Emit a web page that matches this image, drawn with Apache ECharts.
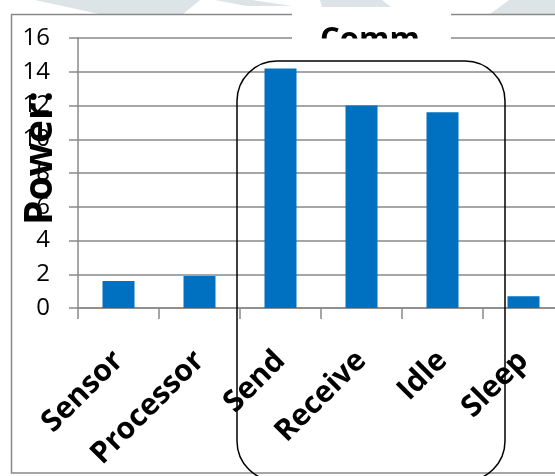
<!DOCTYPE html>
<html>
<head>
<meta charset="utf-8">
<script src="https://cdn.jsdelivr.net/npm/echarts@6/dist/echarts.min.js"></script>
<style>
  html, body { margin: 0; padding: 0; background: #fff; }
  #chart { width: 555px; height: 476px; }
</style>
</head>
<body>
<div id="chart"></div>
<script>
// Power draw per node component
const categories = ['Sensor', 'Processor', 'Send', 'Receive', 'Idle', 'Sleep'];
const powerValues = [1.6, 1.9, 14.2, 12.0, 11.6, 0.7];
const yTicks = { min: 0, max: 16, step: 2 };

const GRID_GRAY = '#898989';
const BAR_BLUE = '#0070C0';
const LABEL_FONT = '"Open Sans", "DejaVu Sans", sans-serif';

const chart = echarts.init(document.getElementById('chart'), null, { renderer: 'canvas' });

chart.setOption({
  animation: false,
  backgroundColor: '#ffffff',
  grid: {
    left: 78,
    top: 38,
    width: 486,
    height: 270,
    containLabel: false,
    outerBoundsMode: 'none'
  },
  xAxis: {
    type: 'category',
    data: categories,
    boundaryGap: true,
    axisLine: { show: true, lineStyle: { color: GRID_GRAY, width: 1.5 } },
    axisTick: { show: true, length: 11, lineStyle: { color: GRID_GRAY, width: 1.5 } },
    axisLabel: {
      interval: 0,
      rotate: 45,
      margin: 48,
      color: '#000',
      fontFamily: LABEL_FONT,
      fontWeight: 'bold',
      fontSize: 30
    }
  },
  yAxis: {
    type: 'value',
    min: yTicks.min,
    max: yTicks.max,
    interval: yTicks.step,
    axisLine: { show: true, lineStyle: { color: GRID_GRAY, width: 1.5 } },
    axisTick: { show: true, length: 9, lineStyle: { color: GRID_GRAY, width: 1.5 } },
    splitLine: { show: true, lineStyle: { color: GRID_GRAY, width: 1.5 } },
    axisLabel: {
      margin: 28,
      color: '#000',
      fontFamily: LABEL_FONT,
      fontSize: 24
    }
  },
  series: [{
    type: 'bar',
    data: powerValues,
    barWidth: 32,
    itemStyle: { color: BAR_BLUE },
    z: 2
  }],
  graphic: {
    elements: [
      // faint backdrop shapes along the top edge
      { type: 'polygon', z: 0, shape: { points: [[35, 0], [200, 0], [183, 14], [99, 14]] }, style: { fill: '#dde4e7' } },
      { type: 'polygon', z: 0, shape: { points: [[215, 0], [252, 0], [292, 6], [246, 6]] }, style: { fill: '#dde4e7' } },
      { type: 'polygon', z: 0, shape: { points: [[320, 0], [382, 0], [391, 7], [322, 7]] }, style: { fill: '#dde4e7' } },
      { type: 'polygon', z: 0, shape: { points: [[509, 0], [555, 0], [555, 14], [490, 14]] }, style: { fill: '#dde4e7' } },
      // chart frame
      { type: 'rect', z: 1, shape: { x: 11.5, y: 14.5, width: 600, height: 458.5 },
        style: { fill: 'none', stroke: GRID_GRAY, lineWidth: 1.5 } },
      // group heading, partly hidden
      { type: 'rect', z: 50, shape: { x: 292, y: 8, width: 159, height: 31 }, style: { fill: '#ffffff' } },
      { type: 'text', z: 51, x: 370, y: 40,
        style: { text: 'Comm', font: 'bold 31px ' + LABEL_FONT, fill: '#000', align: 'center', verticalAlign: 'middle' } },
      { type: 'rect', z: 52, shape: { x: 300, y: 38.5, width: 140, height: 20 }, style: { fill: '#ffffff' } },
      // y-axis title
      { type: 'text', z: 55, x: 41, y: 158, rotation: Math.PI / 2,
        style: { text: 'Power:', font: 'bold 39px ' + LABEL_FONT, fill: '#000', align: 'center', verticalAlign: 'middle' } },
      // outline around the radio states
      { type: 'rect', z: 60, shape: { x: 237, y: 61, width: 268, height: 420, r: 40 },
        style: { fill: 'none', stroke: '#000', lineWidth: 1.5 } }
    ]
  }
});
</script>
</body>
</html>
